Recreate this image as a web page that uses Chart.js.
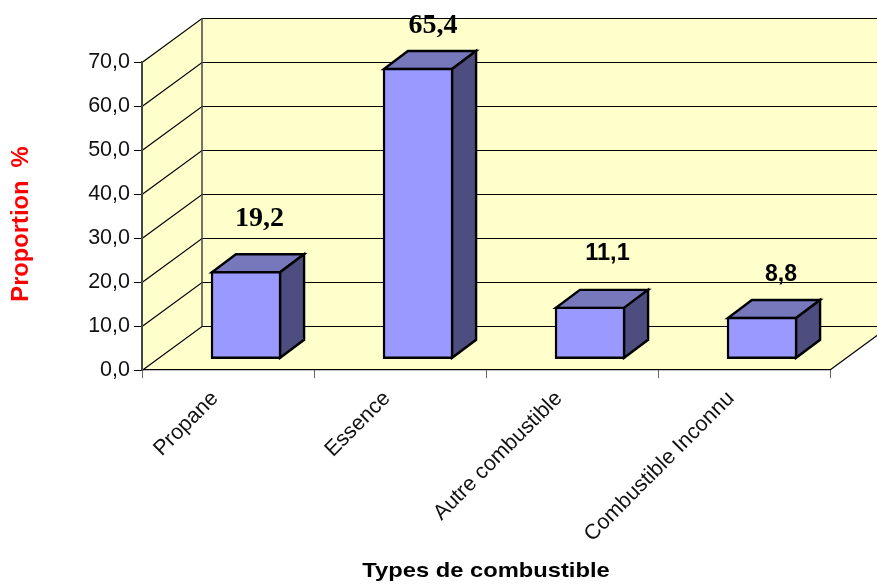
<!DOCTYPE html>
<html>
<head>
<meta charset="utf-8">
<style>
  html, body { margin: 0; padding: 0; background: #fff; }
  #wrap { width: 877px; height: 585px; position: relative; }
</style>
<script src="https://cdn.jsdelivr.net/npm/chart.js@4"></script>
</head>
<body>
<div id="wrap"><canvas id="chart"></canvas></div>
<script>
const categories = ['Propane', 'Essence', 'Autre combustible', 'Combustible Inconnu'];
const values = [19.2, 65.4, 11.1, 8.8];
const yTicks = [0, 10, 20, 30, 40, 50, 60, 70];

// label look, one per bar (the source mixes two fonts)
const labelFonts = ['bold 28px "Liberation Serif"', 'bold 28px "Liberation Serif"', 'bold 23.5px "Liberation Sans"', 'bold 23px "Liberation Sans"'];
const labelGaps = [54.5, 43.5, 55, 44.5];
const labelNudge = [0.5, 2, 4.5, 6];

const fmt = v => v.toFixed(1).replace('.', ',');

// 3D look
const WALL_DX = 60, WALL_DY = -44;
const BAR_DX = 24, BAR_DY = -18;
const BAR_SHIFT_X = 18, BAR_SHIFT_Y = -12.5;

function poly(ctx, pts, fill, stroke, lw) {
    ctx.beginPath();
    pts.forEach((p, i) => i ? ctx.lineTo(p[0], p[1]) : ctx.moveTo(p[0], p[1]));
    ctx.closePath();
    if (fill) { ctx.fillStyle = fill; ctx.fill(); }
    if (stroke) { ctx.strokeStyle = stroke; ctx.lineWidth = lw; ctx.stroke(); }
}

const box3d = {
    id: 'box3d',
    // walls and floor go under everything
    beforeDraw(chart) {
        const { ctx, chartArea: a, scales: { y } } = chart;
        const l = a.left, r = a.right, b = a.bottom, t = a.top;
        ctx.save();
        poly(ctx, [[l, b], [l + WALL_DX, b + WALL_DY], [l + WALL_DX, t + WALL_DY], [l, t]], '#FFFFCC');
        poly(ctx, [[l + WALL_DX, b + WALL_DY], [r + WALL_DX, b + WALL_DY], [r + WALL_DX, t + WALL_DY], [l + WALL_DX, t + WALL_DY]], '#FFFFCC');
        poly(ctx, [[l, b], [r, b], [r + WALL_DX, b + WALL_DY], [l + WALL_DX, b + WALL_DY]], '#FFFFCC');
        ctx.strokeStyle = '#000';
        ctx.lineWidth = 1.2;
        yTicks.forEach(v => {
            const py = Math.round(y.getPixelForValue(v)) + 0.5;
            ctx.beginPath();
            ctx.moveTo(l, py);
            ctx.lineTo(l + WALL_DX, py + WALL_DY);
            ctx.lineTo(r + WALL_DX, py + WALL_DY);
            ctx.stroke();
        });
        // floor right edge
        ctx.beginPath();
        ctx.moveTo(r, b);
        ctx.lineTo(r + WALL_DX, b + WALL_DY);
        ctx.stroke();
        // back corner
        ctx.strokeStyle = '#444';
        ctx.lineWidth = 1.5;
        ctx.beginPath();
        ctx.moveTo(l + WALL_DX, b + WALL_DY);
        ctx.lineTo(l + WALL_DX, t + WALL_DY);
        ctx.stroke();
        ctx.restore();
    },
    // top and side faces, then shift the library's bars back into the box
    beforeDatasetDraw(chart, args) {
        const { ctx } = chart;
        ctx.save();
        ctx.translate(BAR_SHIFT_X, BAR_SHIFT_Y);
        ctx.lineJoin = 'miter';
        args.meta.data.forEach(el => {
            const x0 = el.x - el.width / 2 - 0.8, x1 = el.x + el.width / 2 + 0.8;
            const top = el.y - 0.8, base = el.base + 0.8;
            poly(ctx, [[x0, top], [x1, top], [x1 + BAR_DX, top + BAR_DY], [x0 + BAR_DX, top + BAR_DY]], '#7777BB', '#000', 2.4);
            poly(ctx, [[x1, top], [x1 + BAR_DX, top + BAR_DY], [x1 + BAR_DX, base + BAR_DY], [x1, base]], '#4D4D80', '#000', 2.4);
        });
    },
    afterDatasetDraw(chart) {
        chart.ctx.restore();
    },
    afterDraw(chart) {
        const { ctx, chartArea: a } = chart;
        const els = chart.getDatasetMeta(0).data;
        ctx.save();
        ctx.fillStyle = '#000';
        ctx.textAlign = 'center';
        ctx.textBaseline = 'middle';
        values.forEach((v, i) => {
            ctx.font = labelFonts[i];
            ctx.fillText(fmt(v), els[i].x + BAR_SHIFT_X + 13 + labelNudge[i], els[i].y + BAR_SHIFT_Y - labelGaps[i]);
        });
        // both axis titles are stretched along the text in the source
        ctx.save();
        ctx.translate((a.left + a.right) / 2, 571);
        ctx.scale(1.13, 1);
        ctx.font = 'bold 21px "Liberation Sans"';
        ctx.fillText('Types de combustible', 0, 0);
        ctx.restore();
        ctx.translate(22, 224);
        ctx.rotate(-Math.PI / 2);
        ctx.scale(1.03, 1);
        ctx.fillStyle = '#FF0000';
        ctx.font = 'bold 23px "Liberation Sans"';
        ctx.fillText('Proportion  %', 0, 0);
        ctx.restore();
    }
};

new Chart(document.getElementById('chart'), {
    type: 'bar',
    data: {
        labels: categories,
        datasets: [{
            data: values,
            backgroundColor: '#9999FF',
            borderColor: '#000',
            borderWidth: 2.4,
            borderSkipped: false,
            inflateAmount: 2,
            barPercentage: 0.387,
            categoryPercentage: 1,
            clip: false
        }]
    },
    options: {
        responsive: true,
        maintainAspectRatio: false,
        animation: false,
        layout: { padding: { top: 62, right: 47, left: 0, bottom: 0 } },
        plugins: { legend: { display: false }, tooltip: { enabled: false } },
        scales: {
            x: {
                afterFit: s => { s.height = 215; },
                grid: { drawOnChartArea: false, color: '#666', tickLength: 8, offset: true },
                border: { color: '#000', width: 1.2 },
                ticks: {
                    autoSkip: false,
                    maxRotation: 45,
                    minRotation: 45,
                    padding: 8,
                    labelOffset: -13,
                    color: '#111',
                    font: { family: '"Liberation Sans"', size: 21.5 }
                }
            },
            y: {
                min: 0,
                max: 70,
                afterFit: s => { s.width = 142; },
                afterBuildTicks: s => { s.ticks = yTicks.map(v => ({ value: v })); },
                grid: { drawOnChartArea: false, color: '#000', tickLength: 8 },
                border: { color: '#444', width: 2 },
                ticks: {
                    padding: 4,
                    color: '#111',
                    callback: fmt,
                    font: { family: '"Liberation Sans"', size: 21.5 }
                }
            }
        }
    },
    plugins: [box3d]
});
</script>
</body>
</html>
